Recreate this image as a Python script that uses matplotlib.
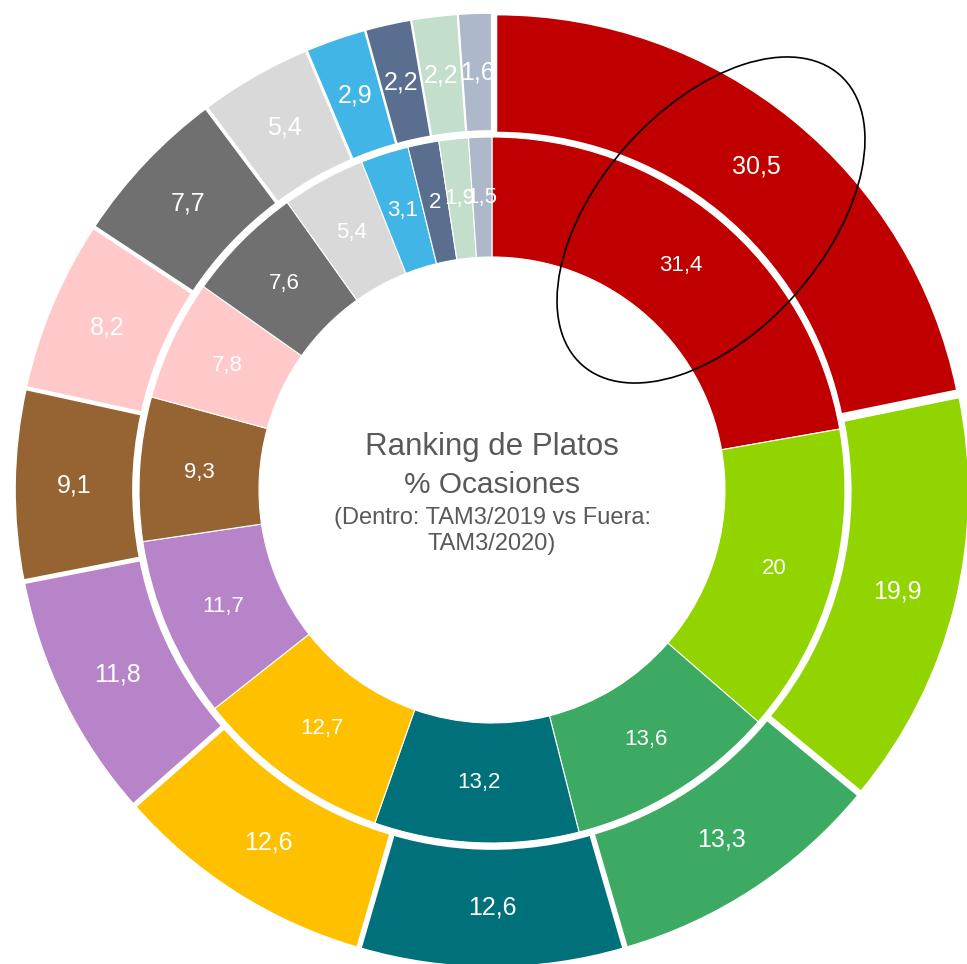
import numpy as np
import matplotlib
matplotlib.use("Agg")
import matplotlib.pyplot as plt
from matplotlib.patches import Ellipse

plt.rcParams['font.family'] = ['Liberation Sans', 'DejaVu Sans']

# values (outer ring = TAM3/2020, inner ring = TAM3/2019)
outer_vals = [30.5, 19.9, 13.3, 12.6, 12.6, 11.8, 9.1, 8.2, 7.7, 5.4, 2.9, 2.2, 2.2, 1.6]
inner_vals = [31.4, 20, 13.6, 13.2, 12.7, 11.7, 9.3, 7.8, 7.6, 5.4, 3.1, 2, 1.9, 1.5]
colors = ["#C00000", "#92D400", "#3CAA62", "#00707A", "#FFC000", "#B784C9",
          "#966432", "#FFC9C9", "#707070", "#D9D9D9", "#41B6E6", "#5A6E8F",
          "#C3DECB", "#ADB8CA"]

title_lines = ["Ranking de Platos", "% Ocasiones"]
subtitle_lines = ["(Dentro: TAM3/2019 vs Fuera:", "TAM3/2020)"]


def fmt(v):
    return f"{v:g}".replace(".", ",")


def add_labels(ax, wedges, vals, size):
    # put each value in the middle of its ring segment
    for w, v in zip(wedges, vals):
        th = np.deg2rad((w.theta1 + w.theta2) / 2)
        r = w.r - w.width / 2
        cx, cy = w.center
        ax.text(cx + r * np.cos(th), cy + r * np.sin(th), fmt(v),
                ha="center", va="center", color="white", fontsize=size)


W, H = 967, 964
fig = plt.figure(figsize=(W / 100, H / 100), dpi=100)
ax = fig.add_axes([0, 0, 1, 1])

center = (492, 474)
R_out, R_in = 470, 353

# explode is in data units here (pixels)
wo, _ = ax.pie(outer_vals, colors=colors, radius=R_out, center=center,
               startangle=90, counterclock=False,
               explode=[7] * len(outer_vals),
               wedgeprops=dict(width=118, edgecolor="white", linewidth=1.2))
wi, _ = ax.pie(inner_vals, colors=colors, radius=R_in, center=center,
               startangle=90, counterclock=False,
               wedgeprops=dict(width=120, edgecolor="white", linewidth=0.8))

add_labels(ax, wo, outer_vals, 18)
add_labels(ax, wi, inner_vals, 16)

# centre text (baselines in pixels from the top)
gray = "#595959"
ax.text(492, H - 455, title_lines[0], ha="center", va="baseline", fontsize=22.5, color=gray)
ax.text(492, H - 493, title_lines[1], ha="center", va="baseline", fontsize=21.5, color=gray)
ax.text(492, H - 524, subtitle_lines[0], ha="center", va="baseline", fontsize=17, color=gray)
ax.text(492, H - 550, subtitle_lines[1], ha="center", va="baseline", fontsize=17, color=gray)

# highlight ellipse around the top slice
ax.add_patch(Ellipse((711, H - 220), width=388, height=225, angle=48.3,
                     fill=False, edgecolor="black", linewidth=1.2))

ax.set_xlim(0, W)
ax.set_ylim(0, H)
ax.set_aspect("equal")
ax.axis("off")

fig.savefig("out.png", dpi=100)
